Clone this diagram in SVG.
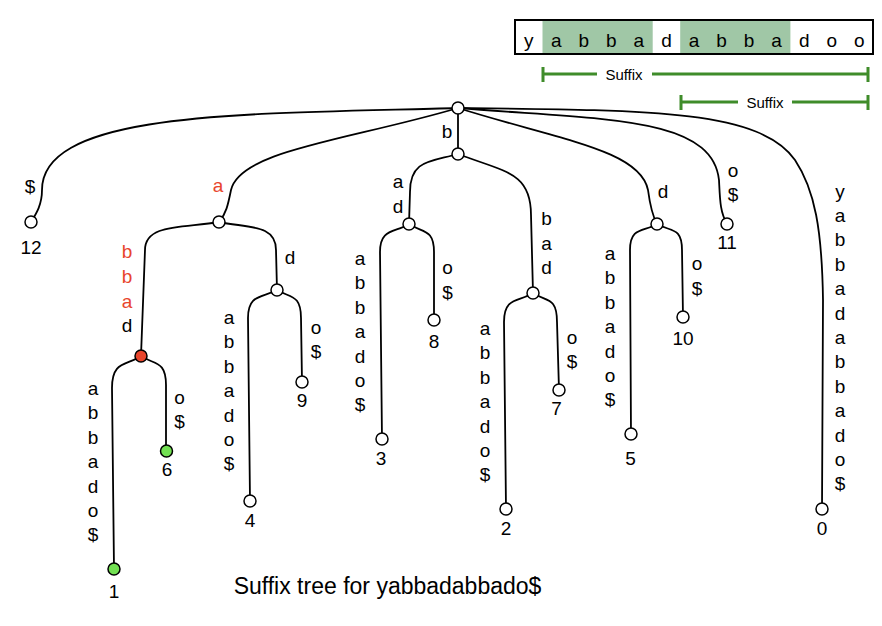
<svg xmlns="http://www.w3.org/2000/svg" width="882" height="626" viewBox="0 0 882 626">
<style>
.e{fill:none;stroke:#000;stroke-width:1.8}
.n{fill:#fff;stroke:#000;stroke-width:1.5}
.red{fill:#e8452c}
.grn{fill:#72e052}
text{font-family:"Liberation Sans",Arial,sans-serif;fill:#000}
.l{font-size:19px;text-anchor:middle}
.r{fill:#e8452c}
.s{font-size:19px;text-anchor:middle}
.sf{font-size:15px;text-anchor:middle}
.bar{stroke:#3f8c2a;stroke-width:3;fill:none}
.cap{font-size:23px;text-anchor:middle}
</style>
<rect width="882" height="626" fill="#fff"/>
<g id="string">
<rect x="515" y="20" width="358" height="34" fill="#fff"/>
<rect x="542.5" y="20" width="110.2" height="34" fill="#a0c7a6"/>
<rect x="680.2" y="20" width="110.2" height="34" fill="#a0c7a6"/>
<rect x="515" y="20" width="358" height="34" fill="none" stroke="#000" stroke-width="2"/>
<text class="s" x="528.8" y="46.5">y</text>
<text class="s" x="556.3" y="46.5">a</text>
<text class="s" x="583.8" y="46.5">b</text>
<text class="s" x="611.4" y="46.5">b</text>
<text class="s" x="638.9" y="46.5">a</text>
<text class="s" x="666.5" y="46.5">d</text>
<text class="s" x="694" y="46.5">a</text>
<text class="s" x="721.5" y="46.5">b</text>
<text class="s" x="749.1" y="46.5">b</text>
<text class="s" x="776.6" y="46.5">a</text>
<text class="s" x="804.2" y="46.5">d</text>
<text class="s" x="831.7" y="46.5">o</text>
<text class="s" x="859.2" y="46.5">o</text>
</g>
<g id="suffix1">
<path class="bar" d="M543,74 H597 M652,74 H868 M543,67 V82 M868,67 V82"/>
<text class="sf" x="624" y="79.5">Suffix</text>
</g>
<g id="suffix2">
<path class="bar" d="M681,102 H738 M792,102 H868 M681,95 V110 M868,95 V110"/>
<text class="sf" x="765" y="107.5">Suffix</text>
</g>
<g id="connectors">
<path class="e" d="M458,108 C250,114 42,110 42,190 C42,205 36,214 31,222"/>
<path class="e" d="M458,108 C350,140 240,150 231,190 C228,205 226,214 219,222"/>
<path class="e" d="M458,108 L458,154"/>
<path class="e" d="M458,108 C560,140 640,150 648,190 C650,205 652,215 657,224"/>
<path class="e" d="M458,108 C600,120 712,115 719,180 C720,200 720,212 727,224"/>
<path class="e" d="M458,108 C650,110 760,110 795,160 C815,190 822,230 823,300 L822,509"/>
<path class="e" d="M219,222 C182,228 145,224 145,250 L141,356"/>
<path class="e" d="M219,222 C248,228 276,224 276,250 L277,290"/>
<path class="e" d="M277,290 C262,298 248,294 248,318 L250,501"/>
<path class="e" d="M277,290 C290,298 301,294 301,318 L302,382"/>
<path class="e" d="M141,356 C127,366 112,360 112,388 L114,569"/>
<path class="e" d="M141,356 C154,365 166,360 166,385 L166,451"/>
<path class="e" d="M458,154 C430,162 410,160 410,192 L409,224"/>
<path class="e" d="M458,154 C505,172 531,172 531,215 L533,293"/>
<path class="e" d="M409,224 C395,233 380,228 380,252 L382,439"/>
<path class="e" d="M409,224 C422,233 434,228 434,252 L434,320"/>
<path class="e" d="M533,293 C520,302 504,296 504,322 L506,509"/>
<path class="e" d="M533,293 C546,302 557,296 557,322 L559,390"/>
<path class="e" d="M657,224 C645,232 630,226 630,250 L631,434"/>
<path class="e" d="M657,224 C670,232 682,226 682,250 L683,317"/>
</g>
<g id="root"><circle class="n" cx="458" cy="108" r="6"/></g>
<g id="leaf12">
<circle class="n" cx="31" cy="222" r="6"/>
<text class="l" x="30" y="193">$</text>
<text class="l" x="31" y="254">12</text>
</g>
<g id="node-a">
<circle class="n" cx="219" cy="222" r="6"/>
<text class="l r" x="218" y="192">a</text>
</g>
<g id="node-abbad">
<circle class="n red" cx="141" cy="356" r="6"/>
<text class="l r" x="127" y="258">b</text>
<text class="l r" x="127" y="282.5">b</text>
<text class="l r" x="127" y="307.5">a</text>
<text class="l" x="127" y="332">d</text>
</g>
<g id="leaf1">
<circle class="n grn" cx="114" cy="569" r="6"/>
<text class="l" x="93" y="395"><tspan x="93">a</tspan><tspan x="93" dy="24.4">b</tspan><tspan x="93" dy="24.4">b</tspan><tspan x="93" dy="24.4">a</tspan><tspan x="93" dy="24.4">d</tspan><tspan x="93" dy="24.4">o</tspan><tspan x="93" dy="24.4">$</tspan></text>
<text class="l" x="114" y="598">1</text>
</g>
<g id="leaf6">
<circle class="n grn" cx="166.5" cy="451" r="6"/>
<text class="l" x="179.5" y="403.5">o</text>
<text class="l" x="179.5" y="428">$</text>
<text class="l" x="167" y="476">6</text>
</g>
<g id="node-ad">
<circle class="n" cx="277" cy="290" r="6"/>
<text class="l" x="290" y="264">d</text>
</g>
<g id="leaf4">
<circle class="n" cx="250" cy="501" r="6"/>
<text class="l" x="229" y="324"><tspan x="229">a</tspan><tspan x="229" dy="24.4">b</tspan><tspan x="229" dy="24.4">b</tspan><tspan x="229" dy="24.4">a</tspan><tspan x="229" dy="24.4">d</tspan><tspan x="229" dy="24.4">o</tspan><tspan x="229" dy="24.4">$</tspan></text>
<text class="l" x="250" y="527">4</text>
</g>
<g id="leaf9">
<circle class="n" cx="302" cy="382" r="6"/>
<text class="l" x="316" y="333.5">o</text>
<text class="l" x="316" y="358">$</text>
<text class="l" x="302" y="407">9</text>
</g>
<g id="node-b">
<circle class="n" cx="458" cy="154" r="6"/>
<text class="l" x="447" y="138">b</text>
</g>
<g id="node-bad">
<circle class="n" cx="409" cy="224" r="6"/>
<text class="l" x="398" y="188">a</text>
<text class="l" x="398" y="212.5">d</text>
</g>
<g id="leaf3">
<circle class="n" cx="382" cy="439" r="6"/>
<text class="l" x="360" y="265"><tspan x="360">a</tspan><tspan x="360" dy="24.4">b</tspan><tspan x="360" dy="24.4">b</tspan><tspan x="360" dy="24.4">a</tspan><tspan x="360" dy="24.4">d</tspan><tspan x="360" dy="24.4">o</tspan><tspan x="360" dy="24.4">$</tspan></text>
<text class="l" x="381" y="465">3</text>
</g>
<g id="leaf8">
<circle class="n" cx="434" cy="320" r="6"/>
<text class="l" x="447.5" y="274">o</text>
<text class="l" x="447.5" y="298.5">$</text>
<text class="l" x="434" y="348">8</text>
</g>
<g id="node-bbad">
<circle class="n" cx="533" cy="293" r="6"/>
<text class="l" x="546.5" y="225">b</text>
<text class="l" x="546.5" y="249.5">a</text>
<text class="l" x="546.5" y="274">d</text>
</g>
<g id="leaf2">
<circle class="n" cx="506" cy="509" r="6"/>
<text class="l" x="485" y="335"><tspan x="485">a</tspan><tspan x="485" dy="24.4">b</tspan><tspan x="485" dy="24.4">b</tspan><tspan x="485" dy="24.4">a</tspan><tspan x="485" dy="24.4">d</tspan><tspan x="485" dy="24.4">o</tspan><tspan x="485" dy="24.4">$</tspan></text>
<text class="l" x="506" y="535">2</text>
</g>
<g id="leaf7">
<circle class="n" cx="559" cy="390" r="6"/>
<text class="l" x="572" y="343.5">o</text>
<text class="l" x="572" y="368">$</text>
<text class="l" x="556.5" y="415">7</text>
</g>
<g id="node-d">
<circle class="n" cx="657" cy="224" r="6"/>
<text class="l" x="663" y="198">d</text>
</g>
<g id="leaf5">
<circle class="n" cx="631" cy="434" r="6"/>
<text class="l" x="610" y="260"><tspan x="610">a</tspan><tspan x="610" dy="24.4">b</tspan><tspan x="610" dy="24.4">b</tspan><tspan x="610" dy="24.4">a</tspan><tspan x="610" dy="24.4">d</tspan><tspan x="610" dy="24.4">o</tspan><tspan x="610" dy="24.4">$</tspan></text>
<text class="l" x="630.5" y="465">5</text>
</g>
<g id="leaf10">
<circle class="n" cx="683" cy="317" r="6"/>
<text class="l" x="697" y="270">o</text>
<text class="l" x="697" y="294.5">$</text>
<text class="l" x="683" y="345">10</text>
</g>
<g id="leaf11">
<circle class="n" cx="727" cy="224" r="6"/>
<text class="l" x="733" y="176.5">o</text>
<text class="l" x="733" y="201">$</text>
<text class="l" x="727" y="249">11</text>
</g>
<g id="leaf0">
<circle class="n" cx="822" cy="509" r="6"/>
<text class="l" x="840" y="197.6"><tspan x="840">y</tspan><tspan x="840" dy="24.4">a</tspan><tspan x="840" dy="24.4">b</tspan><tspan x="840" dy="24.4">b</tspan><tspan x="840" dy="24.4">a</tspan><tspan x="840" dy="24.4">d</tspan><tspan x="840" dy="24.4">a</tspan><tspan x="840" dy="24.4">b</tspan><tspan x="840" dy="24.4">b</tspan><tspan x="840" dy="24.4">a</tspan><tspan x="840" dy="24.4">d</tspan><tspan x="840" dy="24.4">o</tspan><tspan x="840" dy="24.4">$</tspan></text>
<text class="l" x="822" y="535">0</text>
</g>
<text class="cap" x="387.5" y="594">Suffix tree for yabbadabbado$</text>
</svg>
